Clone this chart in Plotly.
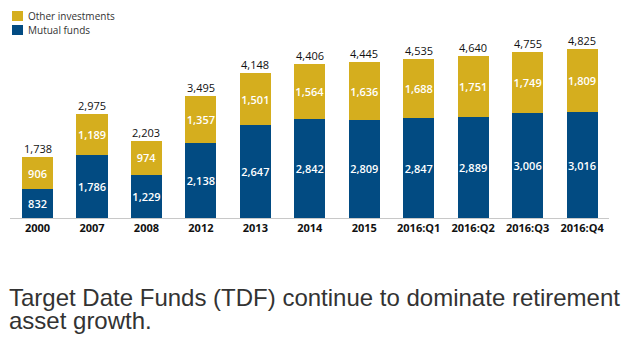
import plotly.graph_objects as go

# Retirement assets held in target date funds, billions of dollars
periods = ["2000", "2007", "2008", "2012", "2013", "2014", "2015",
           "2016:Q1", "2016:Q2", "2016:Q3", "2016:Q4"]
mutual_funds = [832, 1786, 1229, 2138, 2647, 2842, 2809, 2847, 2889, 3006, 3016]
other_investments = [906, 1189, 974, 1357, 1501, 1564, 1636, 1688, 1751, 1749, 1809]
totals = [m + o for m, o in zip(mutual_funds, other_investments)]

BLUE = "#024B82"
GOLD = "#D5AE1E"
LABEL_FONT = "Open Sans"

W, H = 626, 337


def px_x(v):
    return v / W


def px_y(v):
    return 1 - v / H


fig = go.Figure()
fig.add_trace(go.Bar(
    x=periods, y=mutual_funds, name="Mutual funds",
    marker=dict(color=BLUE, line=dict(width=0)),
    texttemplate="%{y:,}", textposition="inside", insidetextanchor="middle",
    textangle=0, constraintext="none",
    textfont=dict(family=LABEL_FONT, size=11, color="white", weight=600),
    hoverinfo="skip",
))
fig.add_trace(go.Bar(
    x=periods, y=other_investments, name="Other investments",
    marker=dict(color=GOLD, line=dict(width=0)),
    texttemplate="%{y:,}", textposition="inside", insidetextanchor="middle",
    textangle=0, constraintext="none",
    textfont=dict(family=LABEL_FONT, size=11, color="white", weight=600),
    hoverinfo="skip",
))

# Total value above each stacked bar (x given as category index)
for i, t in enumerate(totals):
    fig.add_annotation(
        x=i, y=t, xref="x", yref="y", text=f"{t:,}", showarrow=False,
        yanchor="bottom", yshift=-1,
        font=dict(family=LABEL_FONT, size=11, color="#111111", weight=500),
    )

# Compact legend in the top-left corner: swatch + label per series
legend_items = [("Other investments", GOLD, 16), ("Mutual funds", BLUE, 30)]
for label, color, cy in legend_items:
    fig.add_shape(
        type="rect", xref="paper", yref="paper",
        x0=px_x(12), x1=px_x(23), y0=px_y(cy + 5), y1=px_y(cy - 5),
        fillcolor=color, line=dict(width=0),
    )
    fig.add_annotation(
        x=px_x(26), y=px_y(cy), xref="paper", yref="paper",
        xanchor="left", yanchor="middle", text=label, showarrow=False,
        font=dict(family=LABEL_FONT, size=10, color="#333333"),
    )

# Caption below the chart
fig.add_annotation(
    x=px_x(7), y=px_y(282), xref="paper", yref="paper", xanchor="left", yanchor="top",
    text="Target Date Funds (TDF) continue to dominate retirement",
    showarrow=False, font=dict(family="Liberation Sans", size=24, color="#333333"),
)
fig.add_annotation(
    x=px_x(7), y=px_y(305), xref="paper", yref="paper", xanchor="left", yanchor="top",
    text="asset growth.",
    showarrow=False, font=dict(family="Liberation Sans", size=24, color="#333333"),
)

fig.update_layout(
    width=W, height=H,
    margin=dict(l=0, r=0, t=0, b=0),
    paper_bgcolor="white", plot_bgcolor="white",
    barmode="stack", bargap=0.43,
    showlegend=False,
    xaxis=dict(
        type="category",
        domain=[px_x(10.3), px_x(609.3)],
        range=[-0.5, len(periods) - 0.5],
        showgrid=False, showline=True, linecolor="#C8C8C8", linewidth=1,
        ticks="", tickfont=dict(family=LABEL_FONT, size=11, color="#111111", weight=700),
        fixedrange=True,
    ),
    yaxis=dict(
        domain=[px_y(218), px_y(43)],
        range=[0, 5000],
        showgrid=False, zeroline=False, showticklabels=False, showline=False,
        fixedrange=True,
    ),
)

fig.write_html("out.html")
